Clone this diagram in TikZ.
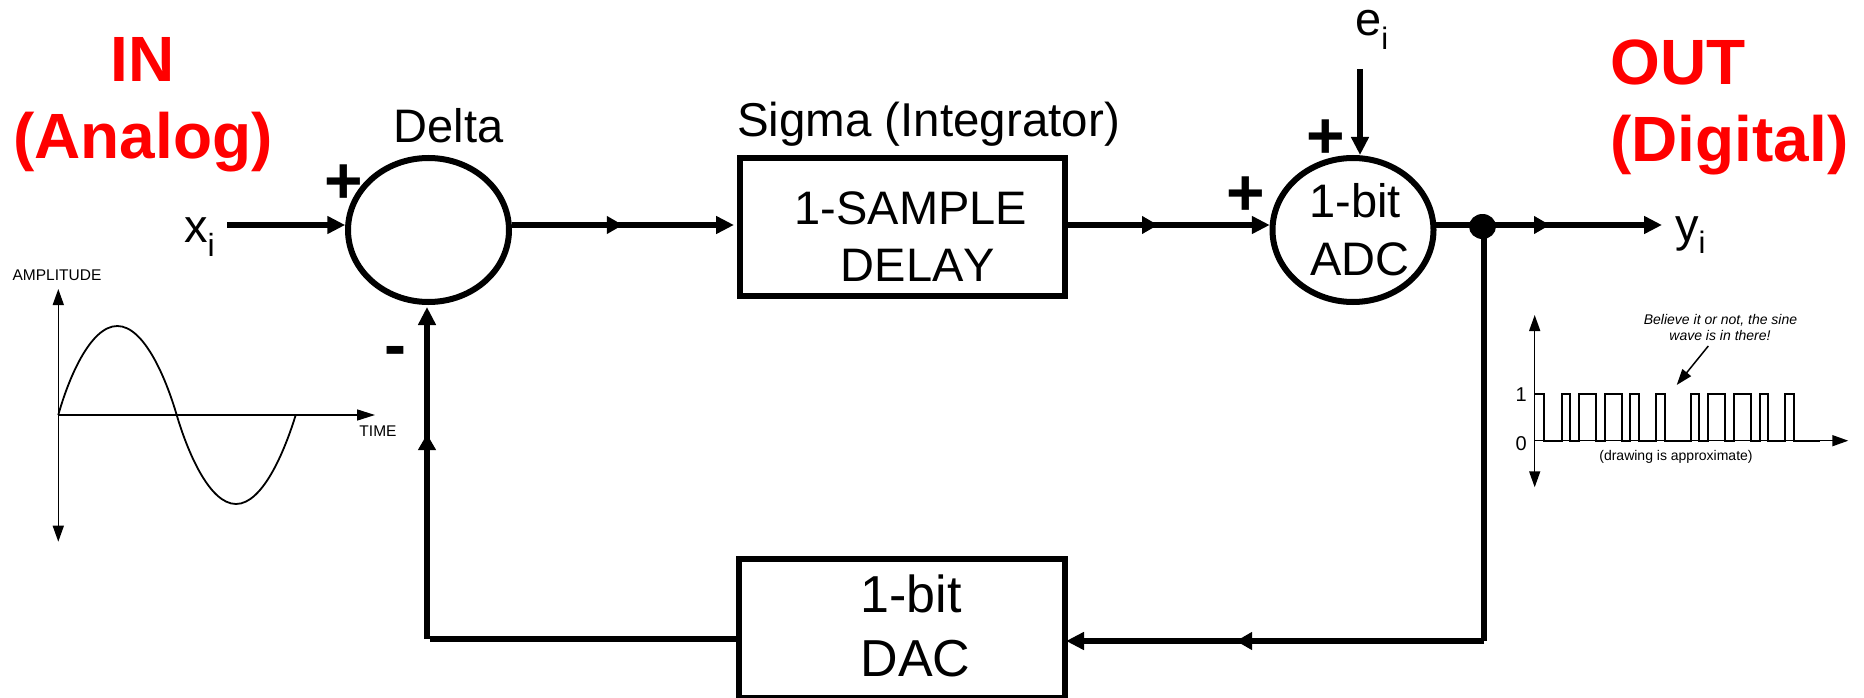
\documentclass[tikz,border=0pt]{standalone}
\usepackage{fontspec}
\setmainfont[Kerning=Off]{Liberation Sans}
\usetikzlibrary{arrows.meta,shapes.geometric,decorations.markings}
\newcommand{\fsz}[1]{\fontsize{#1}{#1}\selectfont}
\tikzset{
  conn/.style={line width=6.3pt,line join=round},
  head/.style={-{Triangle[length=18pt,width=17pt]}},
  midhead/.style={postaction={decorate},decoration={markings,mark=at position #1 with {\arrow{Triangle[length=16pt,width=17pt]}}}},
  thin axis/.style={line width=1.5pt,{Triangle[length=16pt,width=11pt]}-{Triangle[length=16pt,width=11pt]}},
  blockbox/.style={draw,line width=6pt,rectangle,inner sep=0pt},
  sumnode/.style={draw,line width=6pt,ellipse,inner sep=0pt,minimum width=161pt,minimum height=144pt},
  lbl/.style={inner sep=0pt,anchor=base,font=\fsz{47}},
  biglbl/.style={inner sep=0pt,anchor=base,font=\fsz{52}},
  redlbl/.style={inner sep=0pt,anchor=base,text=red,font=\fsz{64}\bfseries},
  sign/.style={inner sep=0pt,anchor=base,font=\fsz{66}\bfseries},
  small/.style={inner sep=0pt,anchor=base,font=\fsz{15.5}},
  tiny/.style={inner sep=0pt,anchor=base,font=\fsz{14}},
}
\begin{document}
\begin{tikzpicture}[x=1pt,y=-1pt]
\useasboundingbox (0,0) rectangle (1864,698);
% headings
\node[redlbl] (inh) at (142.5,82) {IN};
\node[redlbl] (ana) at (143,159) {(Analog)};
\node[redlbl,anchor=base west] (outh) at (1610.5,85) {OUT};
\node[redlbl,anchor=base west] (dig) at (1610,161) {(Digital)};
% blocks
\node[sumnode] (delta) at (428.5,230) {};
\node[sumnode] (adc) at (1353,230) {};
\node[blockbox,minimum width=325pt,minimum height=138pt] (delay) at (902.5,227) {};
\node[blockbox,minimum width=326pt,minimum height=139pt] (dac) at (902,628.5) {};
\node[fill=black,ellipse,inner sep=0pt,minimum width=27pt,minimum height=25pt] (dot) at (1482.5,226.5) {};
% block texts
\node[lbl] (deltat) at (448.5,143) {Delta};
\node[lbl,font=\fsz{47.5}] (sigmat) at (928.5,137) {Sigma (Integrator)};
\node[lbl] (samp) at (911,224) {1-SAMPLE};
\node[lbl] (dela) at (918,281) {DELAY};
\node[lbl] (adc1) at (1355,217) {1-bit};
\node[lbl] (adc2) at (1360,275) {ADC};
\node[biglbl] (dac1) at (911,612.7) {1-bit};
\node[biglbl] (dac2) at (915.5,676) {DAC};
% in/out labels
\node[lbl,anchor=base west] (xi) at (184,242) {x\raisebox{-14pt}{\fsz{32}i}};
\node[lbl,anchor=base west] (yi) at (1675,241) {y\raisebox{-12pt}{\fsz{31}i}};
\node[lbl,anchor=base west] (ei) at (1355,36) {e\raisebox{-14pt}{\fsz{31}i}};
% signs
\node[sign] (p1) at (344,204) {+};
\node[sign] (p2) at (1246,215) {+};
\node[sign] (p3) at (1325.5,159) {+};
\node[sign] (m1) at (395,367) {-};
% rails and free ends
\coordinate (rail) at (0,225);
\coordinate (xistart) at (227,225);
\coordinate (estart) at (1360,69);
\coordinate (yend) at (1662,225);
\coordinate (drop) at (1484,226);
\coordinate (fbturn) at (1484,641);
\coordinate (fbcorner) at (427,639);
% forward path
\draw[conn,head] (xistart) -- (delta.176.4 |- rail);
\draw[conn,head,midhead=111pt,shorten >=3pt] (delta.3.6 |- rail) -- (delay.west |- rail);
\draw[conn,head,midhead=90pt] (delay.east |- rail) -- (adc.176.4 |- rail);
\draw[conn] (adc.3.6 |- rail) -- (dot.center |- rail);
\draw[conn,head,midhead=67.5pt] (dot.center |- rail) -- (yend);
\draw[conn,head] (estart) -- (estart |- adc.north);
% feedback path
\draw[conn] (drop) -- (fbturn);
\draw[conn,head,midhead=248pt,shorten >=-2pt] (fbturn) -- (dac.east |- fbturn);
\draw[conn,shorten >=3pt] (dac.west |- fbcorner) -- (fbcorner);
\draw[conn,head,midhead=205pt,shorten >=2pt] (fbcorner) -- (fbcorner |- delta.south);
% input chart
\coordinate (ax1) at (58.3,289);
\coordinate (ax2) at (58.3,541.7);
\coordinate (ax3) at (58.3,415);
\coordinate (ax4) at (375,415);
\draw[thin axis] (ax1) -- (ax2);
\draw[line width=1.5pt,-{Triangle[length=18pt,width=11pt]}] (ax3) -- (ax4);
\draw[line width=1.8pt] (ax3) .. controls (68,380) and (90,326) .. (117.3,326)
  .. controls (144.6,326) and (166.5,380) .. (176.7,415)
  .. controls (187,450) and (209,504) .. (236,504)
  .. controls (263,504) and (285,450) .. (295.7,415);
\node[small] (amp) at (57,280.7) {AMPLITUDE};
\node[small] (tim) at (378,436) {TIME};
% output chart
\coordinate (bx1) at (1534.7,315);
\coordinate (bx2) at (1534.7,487.3);
\coordinate (bx3) at (1534.7,440.7);
\coordinate (bx4) at (1848.3,440.7);
\draw[thin axis] (bx1) -- (bx2);
\draw[line width=1.5pt,-{Triangle[length=16pt,width=11pt]}] (bx3) -- (bx4);
\draw[line width=2.2pt,line join=miter]
 (1534.7,394) -- (1544.3,394) -- (1544.3,440.7) -- (1562.3,440.7) -- (1562.3,394) -- (1570,394) -- (1570,440.7)
 -- (1578.7,440.7) -- (1578.7,394) -- (1596,394) -- (1596,440.7) -- (1604.7,440.7) -- (1604.7,394) -- (1621.7,394) -- (1621.7,440.7)
 -- (1630.3,440.7) -- (1630.3,394) -- (1638.7,394) -- (1638.7,440.7) -- (1656.3,440.7) -- (1656.3,394) -- (1665,394) -- (1665,440.7)
 -- (1691,440.7) -- (1691,394) -- (1699.3,394) -- (1699.3,440.7) -- (1707.7,440.7) -- (1707.7,394) -- (1725.3,394) -- (1725.3,440.7)
 -- (1734,440.7) -- (1734,394) -- (1751,394) -- (1751,440.7) -- (1759.7,440.7) -- (1759.7,394) -- (1767.7,394) -- (1767.7,440.7)
 -- (1785.3,440.7) -- (1785.3,394) -- (1793.7,394) -- (1793.7,440.7) -- (1820,440.7);
\node[tiny,font=\fsz{14}\itshape] (bel1) at (1720.5,324) {Believe it or not, the sine};
\node[tiny,font=\fsz{14}\itshape] (bel2) at (1720,340.7) {wave is in there!};
\coordinate (noteA) at (1708.3,346);
\coordinate (noteB) at (1676.7,385);
\draw[line width=1.5pt,-{Triangle[length=16pt,width=11pt]}] (noteA) -- (noteB);
\node[inner sep=0pt,anchor=base east,font=\fsz{20}] (one) at (1527,401.7) {1};
\node[inner sep=0pt,anchor=base east,font=\fsz{20}] (zero) at (1527,450) {0};
\node[tiny] (appr) at (1676,460.7) {(drawing is approximate)};
\end{tikzpicture}
\end{document}
